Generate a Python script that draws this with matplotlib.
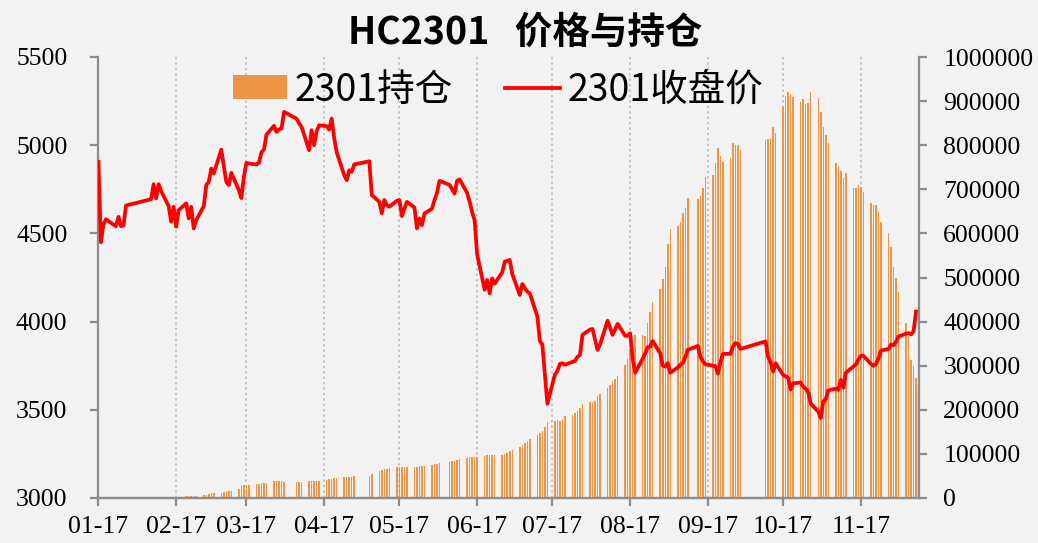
import matplotlib
matplotlib.use('Agg')
import matplotlib.pyplot as plt
import matplotlib.dates as mdates
from matplotlib.patches import Patch
from matplotlib.lines import Line2D
from matplotlib.ticker import FuncFormatter
import pandas as pd

# ---------------- data ----------------
holidays = ['2022-01-31', '2022-02-01', '2022-02-02', '2022-02-03', '2022-02-04',
            '2022-04-04', '2022-04-05', '2022-05-02', '2022-05-03', '2022-05-04',
            '2022-06-03', '2022-09-12', '2022-10-03', '2022-10-04', '2022-10-05',
            '2022-10-06', '2022-10-07']
start_date = '2022-01-17'
end_date = '2022-12-09'

close_price = [
    4906, 4450, 4550, 4580, 4570,
    4540, 4594, 4541, 4545, 4658,
    4694, 4779, 4698, 4779, 4740,
    4655, 4566, 4651, 4538, 4632,
    4670, 4585, 4651, 4528, 4575,
    4655, 4774, 4792, 4868, 4840,
    4975, 4880, 4792, 4774, 4843,
    4745, 4700, 4821, 4900, 4896,
    4891, 4900, 4960, 4975, 5060,
    5110, 5075, 5090, 5094, 5189,
    5150, 5125, 5104,
    4972, 5085, 5000, 5080, 5113,
    5108, 5089, 5151, 5040, 4960,
    4830, 4802, 4858, 4849, 4891,
    4909, 4717,
    4679, 4613, 4689, 4660, 4651,
    4685, 4689, 4598, 4640, 4679,
    4647, 4528, 4585, 4547, 4613,
    4640, 4690, 4730, 4798,
    4775, 4750, 4726, 4798, 4806,
    4730, 4680, 4620, 4575, 4380,
    4180, 4236, 4160, 4245, 4215,
    4280, 4340, 4345, 4349, 4270,
    4151, 4213, 4190, 4170, 4160,
    4030, 3890, 3870, 3700, 3534,
    3700, 3720, 3760, 3764, 3755,
    3772, 3777, 3800, 3811, 3925,
    3955, 3958, 3900, 3840, 3870,
    4005, 3965, 3925, 3955, 3987,
    3920, 3920, 3934, 3790, 3710,
    3790, 3820, 3855, 3858, 3890,
    3820, 3750, 3745, 3764, 3710,
    3740, 3755, 3764, 3800, 3840,
    3862, 3800, 3775, 3758,
    3750, 3748, 3705, 3770, 3817,
    3817, 3860, 3878, 3873, 3845,
    3888, 3800, 3770, 3717, 3764,
    3698, 3690, 3680, 3615, 3650,
    3655, 3630, 3620, 3600, 3535,
    3490, 3453, 3547, 3560, 3610,
    3620, 3613, 3670, 3625, 3710,
    3745, 3758, 3785, 3806, 3806,
    3760, 3749, 3760, 3790, 3836,
    3845, 3870, 3866, 3885, 3915,
    3932, 3934, 3928, 3945, 4057,
]

open_interest = [
    3000, 0, 0, 0, 0,
    0, 0, 0, 0, 0,
    0, 0, 0, 0, 0,
    1000, 1500, 2500, 3000, 3000,
    4000, 4500, 5000, 5000, 5500,
    6000, 7500, 9000, 10500, 11000,
    12000, 13500, 15000, 16000, 16500,
    20000, 30000, 30000, 30500, 30000,
    32000, 32000, 33000, 33500, 33500,
    39000, 39500, 39500, 37500, 37000,
    36000, 37000, 36000,
    38000, 39000, 39000, 39000, 39500,
    41500, 43000, 44000, 44500, 45000,
    47000, 48000, 47500, 48500, 50000,
    50500, 55000,
    62000, 64000, 66000, 66500, 67000,
    70000, 71000, 70500, 70000, 70500,
    70000, 71000, 71500, 72000, 72500,
    75000, 76000, 77000, 80000,
    82000, 83000, 84500, 86000, 87500,
    91000, 92000, 92000, 92500, 92000,
    96000, 97000, 97500, 97500, 98000,
    97500, 99000, 102000, 106000, 109000,
    116000, 120000, 124000, 129000, 133000,
    143000, 148000, 152000, 160000, 173000,
    175000, 176000, 175000, 180000, 186000,
    188000, 192000, 198000, 205000, 213000,
    218000, 218000, 220000, 232000, 236000,
    249000, 257000, 266000, 270000, 277000,
    301000, 316000, 339000, 360000, 369000,
    369000, 368000, 396000, 422000, 445000,
    475000, 496000, 524000, 577000, 610000,
    617000, 626000, 647000, 657000, 681000,
    678000, 685000, 703000, 728000,
    732000, 760000, 793000, 775000, 762000,
    770000, 804000, 800000, 800000, 788000,
    811000, 815000, 817000, 842000, 828000,
    887000, 911000, 921000, 916000, 910000,
    898000, 904000, 893000, 895000, 921000,
    906000, 876000, 842000, 823000, 804000,
    760000, 753000, 742000, 725000, 736000,
    704000, 704000, 709000, 705000, 694000,
    668000, 664000, 664000, 649000, 626000,
    600000, 570000, 524000, 498000, 468000,
    397000, 367000, 314000, 299000, 273000,
]

month_ticks = ['2022-01-17', '2022-02-17', '2022-03-17', '2022-04-17', '2022-05-17',
               '2022-06-17', '2022-07-17', '2022-08-17', '2022-09-17', '2022-10-17',
               '2022-11-17']
left_ticks = [3000, 3500, 4000, 4500, 5000, 5500]
right_ticks = [0, 100000, 200000, 300000, 400000, 500000, 600000, 700000, 800000,
               900000, 1000000]
title_text = 'HC2301   价格与持仓'
label_oi = '2301持仓'
label_price = '2301收盘价'

dates = pd.bdate_range(start_date, end_date, freq='C', holidays=holidays)
assert len(dates) == len(close_price) == len(open_interest), (len(dates), len(close_price), len(open_interest))

# ---------------- styling ----------------
BG = '#f2f2f2'
ORANGE = '#ED9445'
RED = '#FF0000'
SPINE = '#8c8c8c'
serif = 'Liberation Serif'
cjk = ['Noto Sans CJK SC', 'DejaVu Sans']

fig = plt.figure(figsize=(10.38, 5.43), dpi=100, facecolor=BG)
W, H = 1038, 543
ax = fig.add_axes([98 / W, (H - 498) / H, (919 - 98) / W, (498 - 57) / H])
ax2 = ax.twinx()
ax2.set_facecolor(BG)
ax.set_zorder(ax2.get_zorder() + 1)
ax.patch.set_visible(False)

# vertical dotted gridlines
tick_dates = pd.to_datetime(month_ticks)
for d in tick_dates[1:]:
    ax2.axvline(d, color='#bdbdbd', linestyle=(0, (1.2, 1.8)), linewidth=1.3, zorder=0)

ax2.bar(dates, open_interest, width=0.6, color=ORANGE, linewidth=0, zorder=2)
ax.plot(dates, close_price, color=RED, linewidth=2.7, solid_joinstyle='round', zorder=3)

x0 = pd.Timestamp(start_date) - pd.Timedelta(hours=4)
x1 = pd.Timestamp('2022-12-10') + pd.Timedelta(hours=4)
ax.set_xlim(x0, x1)
ax.set_ylim(3000, 5500)
ax2.set_ylim(0, 1000000)
ax.set_yticks(left_ticks)
ax2.set_yticks(right_ticks)
ax2.yaxis.set_major_formatter(FuncFormatter(lambda v, p: f'{int(round(v))}'))
ax.yaxis.set_major_formatter(FuncFormatter(lambda v, p: f'{int(round(v))}'))
ax.set_xticks(tick_dates)
ax.xaxis.set_major_formatter(mdates.DateFormatter('%m-%d'))

for a in (ax, ax2):
    a.spines['top'].set_visible(False)
    for s in ('left', 'right', 'bottom'):
        a.spines[s].set_color(SPINE)
        a.spines[s].set_linewidth(1.6)
ax.spines['right'].set_visible(False)
ax2.spines['left'].set_visible(False)

ax.tick_params(axis='y', direction='out', length=6, width=1.6, color=SPINE,
               labelsize=18.5, pad=16, labelcolor='black')
ax2.tick_params(axis='y', direction='out', length=6, width=1.6, color=SPINE,
                labelsize=18.5, pad=11.5, labelcolor='black')
ax.tick_params(axis='x', direction='out', length=6, width=1.6, color=SPINE,
               labelsize=18.5, pad=7, labelcolor='black')
for lab in ax.get_yticklabels() + ax2.get_yticklabels() + ax.get_xticklabels():
    lab.set_fontfamily(serif)

handles = [Patch(facecolor=ORANGE, edgecolor='none'),
           Line2D([0], [0], color=RED, linewidth=2.7)]
leg = ax.legend(handles, [label_oi, label_price], loc='center',
                bbox_to_anchor=(0.487, 0.925), ncol=2, frameon=False,
                prop={'family': cjk, 'size': 27}, handlelength=1.45,
                handleheight=0.6, handletextpad=0.2, columnspacing=1.4)

fig.text(0.506, 0.941, title_text, ha='center', va='center', fontsize=27,
         fontweight='bold', family=cjk)

fig.savefig('out.png', dpi=100, facecolor=BG)
